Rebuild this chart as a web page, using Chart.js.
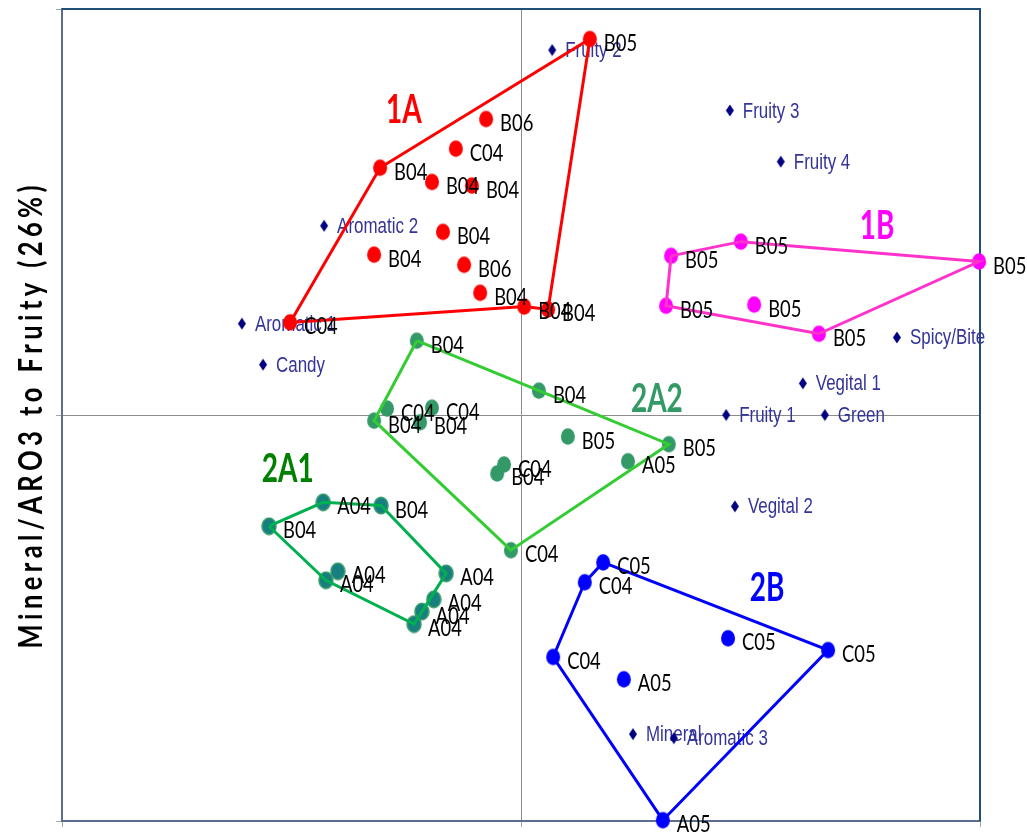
<!DOCTYPE html>
<html>
<head>
<meta charset="utf-8">
<script src="https://cdn.jsdelivr.net/npm/chart.js@4/dist/chart.umd.min.js"></script>
<style>
    html, body { margin: 0; padding: 0; background: #fff; }
    #grafica { display: block; }
</style>
</head>
<body>
<canvas id="grafica" width="1027" height="832"></canvas>
<script>
// Grupo 1A
const g1aEtiquetas = ["B05", "B06", "C04", "B04", "B04", "B04", "B04", "B04", "B06", "B04", "B04", "B04", "C04"];
const g1aX = [0.150, -0.076, -0.142, -0.307, -0.194, -0.107, -0.170, -0.320, -0.124, -0.089, 0.007, 0.059, -0.503];
const g1aY = [0.926, 0.729, 0.656, 0.609, 0.574, 0.565, 0.451, 0.395, 0.370, 0.301, 0.267, 0.260, 0.228];
const g1aContorno = [12, 3, 0, 11, 10, 12];

// Grupo 1B
const g1bEtiquetas = ["B05", "B05", "B05", "B05", "B05", "B05"];
const g1bX = [0.327, 0.479, 0.998, 0.316, 0.508, 0.649];
const g1bY = [0.392, 0.427, 0.378, 0.269, 0.272, 0.200];
const g1bContorno = [0, 1, 2, 5, 3, 0];

// Grupo 2A1
const g2a1Etiquetas = ["A04", "B04", "B04", "A04", "A04", "A04", "A04", "A04", "A04"];
const g2a1X = [-0.431, -0.305, -0.549, -0.399, -0.425, -0.163, -0.190, -0.216, -0.233];
const g2a1Y = [-0.215, -0.223, -0.274, -0.385, -0.407, -0.390, -0.454, -0.484, -0.515];
const g2a1Contorno = [2, 0, 1, 5, 8, 4, 2];

// Grupo 2A2
const g2a2Etiquetas = ["B04", "B04", "C04", "C04", "B04", "B04", "B05", "B05", "A05", "C04", "B04", "C04"];
const g2a2X = [-0.227, 0.039, -0.292, -0.194, -0.320, -0.220, 0.102, 0.322, 0.233, -0.037, -0.052, -0.022];
const g2a2Y = [0.183, 0.060, 0.016, 0.018, -0.014, -0.018, -0.053, -0.072, -0.114, -0.122, -0.144, -0.333];
const g2a2Contorno = [0, 1, 7, 11, 4, 0];

// Grupo 2B
const g2bEtiquetas = ["C05", "C04", "C05", "C05", "C04", "A05", "A05"];
const g2bX = [0.179, 0.139, 0.451, 0.669, 0.070, 0.224, 0.309];
const g2bY = [-0.363, -0.412, -0.550, -0.579, -0.596, -0.651, -0.998];
const g2bContorno = [0, 3, 6, 4, 1, 0];

// Atributos
const atributos = ["Fruity 2", "Fruity 3", "Fruity 4", "Aromatic 2", "Aromatic 1", "Candy", "Spicy/Bite", "Vegital 1", "Fruity 1", "Green", "Vegital 2", "Mineral", "Aromatic 3"];
const atributosX = [0.068, 0.455, 0.566, -0.429, -0.608, -0.562, 0.819, 0.614, 0.447, 0.662, 0.466, 0.244, 0.333];
const atributosY = [0.899, 0.750, 0.624, 0.466, 0.225, 0.124, 0.191, 0.078, 0.000, 0.000, -0.225, -0.786, -0.796];

// Nombres de los grupos
const nombresGrupos = ["1A", "1B", "2A1", "2A2", "2B"];
const nombresX = [-0.255, 0.776, -0.508, 0.296, 0.536];
const nombresY = [0.754, 0.469, -0.129, 0.043, -0.422];

const tituloY = "Mineral/ARO3 to Fruity (26%)";

const grupos = [
    { etiquetas: g1aEtiquetas, xs: g1aX, ys: g1aY, contorno: g1aContorno, punto: "#ff0000", linea: "#ff0000", nombre: "#ff0000" },
    { etiquetas: g1bEtiquetas, xs: g1bX, ys: g1bY, contorno: g1bContorno, punto: "#ff00ff", linea: "#ff33cc", nombre: "#ff00ff" },
    { etiquetas: g2a1Etiquetas, xs: g2a1X, ys: g2a1Y, contorno: g2a1Contorno, punto: "#177f80", borde: "#3a9d6a", linea: "#00b050", nombre: "#008000" },
    { etiquetas: g2a2Etiquetas, xs: g2a2X, ys: g2a2Y, contorno: g2a2Contorno, punto: "#339966", linea: "#33cc33", nombre: "#339966" },
    { etiquetas: g2bEtiquetas, xs: g2bX, ys: g2bY, contorno: g2bContorno, punto: "#0000ff", linea: "#0000ff", nombre: "#0000ff" },
];

const puntos = (xs, ys) => xs.map((x, i) => ({ x: x, y: ys[i] }));
const contorno = (xs, ys, indices) => indices.map((i) => ({ x: xs[i], y: ys[i] }));

// marcas algo alargadas en vertical, como en el original
function elipse(color, borde) {
    const c = document.createElement("canvas");
    c.width = 16;
    c.height = 19;
    const ctx = c.getContext("2d");
    ctx.beginPath();
    ctx.ellipse(8, 9.5, 7, 8.3, 0, 0, Math.PI * 2);
    ctx.fillStyle = color;
    ctx.fill();
    if (borde) {
        ctx.lineWidth = 1.5;
        ctx.strokeStyle = borde;
        ctx.stroke();
    }
    return c;
}

function rombo(color) {
    const c = document.createElement("canvas");
    c.width = 10;
    c.height = 13;
    const ctx = c.getContext("2d");
    ctx.beginPath();
    ctx.moveTo(5, 0.5);
    ctx.lineTo(9, 6.5);
    ctx.lineTo(5, 12.5);
    ctx.lineTo(1, 6.5);
    ctx.closePath();
    ctx.fillStyle = color;
    ctx.fill();
    return c;
}

const datasets = [];
grupos.forEach((g) => {
    datasets.push({
        tipo: "contorno",
        data: contorno(g.xs, g.ys, g.contorno),
        showLine: true,
        borderColor: g.linea,
        borderWidth: 3,
        pointRadius: 0,
        fill: false,
        clip: false,
        order: 1,
    });
});
grupos.forEach((g) => {
    datasets.push({
        tipo: "muestras",
        etiquetas: g.etiquetas,
        data: puntos(g.xs, g.ys),
        pointStyle: elipse(g.punto, g.borde),
        pointRadius: 8,
        backgroundColor: g.punto,
        borderColor: g.borde || g.punto,
        clip: false,
        order: 3,
    });
});
datasets.push({
    tipo: "atributos",
    data: puntos(atributosX, atributosY),
    pointStyle: rombo("#000080"),
    pointRadius: 6,
    backgroundColor: "#000080",
    clip: false,
    order: 5,
});

const textoEstrecho = (ctx, texto, x, y, escala) => {
    ctx.save();
    ctx.translate(x, y);
    ctx.scale(escala, 1);
    ctx.fillText(texto, 0, 0);
    ctx.restore();
};

const etiquetas = {
    id: "etiquetas",
    beforeDatasetsDraw(chart) {
        const ctx = chart.ctx;
        const { left, top, right, bottom } = chart.chartArea;
        ctx.save();
        ctx.strokeStyle = "#1f4e79";
        ctx.lineWidth = 2;
        ctx.beginPath();
        ctx.moveTo(left, top);
        ctx.lineTo(right, top);
        ctx.lineTo(right, bottom);
        ctx.stroke();

        ctx.font = "22px 'Liberation Sans', Arial, sans-serif";
        ctx.fillStyle = "#333399";
        ctx.textAlign = "left";
        chart.data.datasets.forEach((ds, i) => {
            if (ds.tipo !== "atributos") return;
            chart.getDatasetMeta(i).data.forEach((p, j) => {
                textoEstrecho(ctx, atributos[j], p.x + 13, p.y + 7, 0.77);
            });
        });
        ctx.restore();
    },
    afterDatasetsDraw(chart) {
        const ctx = chart.ctx;
        ctx.save();
        ctx.font = "23px Lato, sans-serif";
        ctx.fillStyle = "#000";
        ctx.textAlign = "left";
        chart.data.datasets.forEach((ds, i) => {
            if (ds.tipo !== "muestras") return;
            chart.getDatasetMeta(i).data.forEach((p, j) => {
                textoEstrecho(ctx, ds.etiquetas[j], p.x + 14, p.y + 12, 0.8);
            });
        });

        ctx.font = "bold 40px Lato, sans-serif";
        ctx.textAlign = "center";
        nombresGrupos.forEach((nombre, i) => {
            ctx.fillStyle = grupos[i].nombre;
            const x = chart.scales.x.getPixelForValue(nombresX[i]);
            const y = chart.scales.y.getPixelForValue(nombresY[i]);
            textoEstrecho(ctx, nombre, x, y + 14.5, 0.7);
        });

        // titulo del eje Y, con letras espaciadas
        const largo = 463;
        const escala = 0.8;
        ctx.font = "bold 32px Lato, sans-serif";
        ctx.fillStyle = "#000";
        ctx.textAlign = "left";
        const anchos = [...tituloY].map((c) => ctx.measureText(c).width);
        const total = anchos.reduce((a, b) => a + b, 0);
        const espacio = (largo / escala - total) / (anchos.length - 1);
        const centroY = (chart.chartArea.top + chart.chartArea.bottom) / 2 + 2;
        ctx.translate(42, centroY);
        ctx.rotate(-Math.PI / 2);
        ctx.scale(escala, 1);
        let cursor = -largo / escala / 2;
        [...tituloY].forEach((c, i) => {
            ctx.fillText(c, cursor, 0);
            cursor += anchos[i] + espacio;
        });
        ctx.restore();
    },
};

const colorRejilla = (c) => (c.tick && c.tick.value === 0 ? "#8c8c8c" : "rgba(0,0,0,0)");

const ejes = (posicion) => ({
    type: "linear",
    position: posicion,
    min: -1,
    max: 1,
    ticks: { display: false, stepSize: 1 },
    grid: { color: colorRejilla, lineWidth: 1, drawTicks: true, tickLength: 6, tickColor: "#a6a6a6", tickWidth: 1 },
    border: { display: true, color: "#5b6f8d", width: 2 },
    afterFit: (escala) => {
        if (posicion === "left") escala.width = 0;
        else escala.height = 0;
    },
});

const grafica = new Chart(document.getElementById("grafica"), {
    type: "scatter",
    data: { datasets: datasets },
    options: {
        responsive: false,
        animation: false,
        events: [],
        layout: { padding: { left: 62, right: 47, top: 8, bottom: 11 } },
        plugins: { legend: { display: false }, tooltip: { enabled: false } },
        scales: { x: ejes("bottom"), y: ejes("left") },
    },
    plugins: [etiquetas],
});
</script>
</body>
</html>
